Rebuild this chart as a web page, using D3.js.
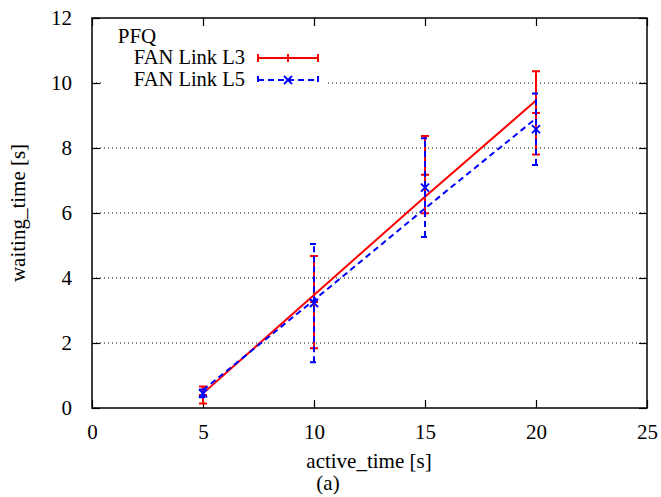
<!DOCTYPE html>
<html>
<head>
<meta charset="utf-8">
<script src="https://cdn.jsdelivr.net/npm/d3@7"></script>
<style>
  body { margin: 0; background: #fff; }
  svg { display: block; }
  text { font-family: 'Liberation Serif', 'DejaVu Serif', serif; fill: #000; }
</style>
</head>
<body>
<svg id="chart"></svg>
<script>
'use strict';

const FONT = "'Liberation Serif', 'DejaVu Serif', serif";

// values
const activeTime = [5, 10, 15, 20];
const l3Line = [0.45, 3.48, 6.5, 9.46];
const l3Mean = [0.4, 3.26, 7.18, 9.08];
const l3Err = [0.26, 1.42, 1.19, 1.28];
const l5Line = [0.55, 3.32, 6.14, 8.91];
const l5Mean = [0.45, 3.23, 6.78, 8.58];
const l5Err = [0.12, 1.82, 1.52, 1.1];
const xTicks = [0, 5, 10, 15, 20, 25];
const yTicks = [0, 2, 4, 6, 8, 10, 12];
const gridTicks = [2, 4, 6, 8, 10];

const series = [
  { name: 'FAN Link L3', line: l3Line, mean: l3Mean, err: l3Err, color: '#ff0000', dash: null, marker: 'plus' },
  { name: 'FAN Link L5', line: l5Line, mean: l5Mean, err: l5Err, color: '#0000ff', dash: '6,4', marker: 'cross' }
];

const margin = { top: 18, right: 14, bottom: 89, left: 92 };
const totalW = 661, totalH = 497;
const width = totalW - margin.left - margin.right;
const height = totalH - margin.top - margin.bottom;
const TICK = 8;
const CAP = 4;
const MS = 4;

const svg = d3.select('#chart').attr('width', totalW).attr('height', totalH);
const chart = svg.append('g').attr('transform', 'translate(' + margin.left + ',' + margin.top + ')');

const x = d3.scaleLinear().domain([0, 25]).range([0, width]);
const y = d3.scaleLinear().domain([0, 12]).range([height, 0]);

// dotted grid
chart.append('g').selectAll('line')
  .data(gridTicks)
  .enter().append('line')
  .attr('x1', 0).attr('x2', width)
  .attr('y1', d => y(d)).attr('y2', d => y(d))
  .attr('stroke', '#000').attr('stroke-width', 1)
  .attr('stroke-dasharray', '1,3');

// opaque key background
chart.append('rect')
  .attr('x', 9).attr('y', 9).attr('width', 226).attr('height', 66)
  .attr('fill', '#fff');

// axes with inward ticks, mirrored on top/right
chart.append('g').attr('class', 'axis')
  .attr('transform', 'translate(0,' + height + ')')
  .call(d3.axisBottom(x).tickValues(xTicks).tickSize(-TICK).tickPadding(16).tickFormat(d3.format('d')));
chart.append('g').attr('class', 'axis')
  .call(d3.axisTop(x).tickValues(xTicks).tickSize(-TICK).tickFormat(''));
chart.append('g').attr('class', 'axis')
  .call(d3.axisLeft(y).tickValues(yTicks).tickSize(-TICK).tickPadding(20).tickFormat(d3.format('d')));
chart.append('g').attr('class', 'axis')
  .attr('transform', 'translate(' + width + ',0)')
  .call(d3.axisRight(y).tickValues(yTicks).tickSize(-TICK).tickFormat(''));
chart.selectAll('.axis').attr('font-family', FONT).attr('font-size', 21);
chart.selectAll('.axis text').attr('font-family', FONT).attr('font-size', 21).attr('fill', '#000');
chart.selectAll('.axis .domain').remove();
chart.selectAll('.axis .tick line').attr('stroke', '#000').attr('stroke-width', 1.2);

chart.append('rect')
  .attr('width', width).attr('height', height)
  .attr('fill', 'none').attr('stroke', '#000').attr('stroke-width', 1.5);

function drawMarker(g, type, cx, cy, color) {
  const p = type === 'plus'
    ? 'M' + (cx - MS) + ',' + cy + 'H' + (cx + MS) + 'M' + cx + ',' + (cy - MS) + 'V' + (cy + MS)
    : 'M' + (cx - MS) + ',' + (cy - MS) + 'L' + (cx + MS) + ',' + (cy + MS) +
      'M' + (cx - MS) + ',' + (cy + MS) + 'L' + (cx + MS) + ',' + (cy - MS);
  g.append('path').attr('d', p).attr('stroke', color).attr('stroke-width', 2).attr('fill', 'none');
}

const line = d3.line().x(d => x(d[0])).y(d => y(d[1]));

series.forEach((s) => {
  const g = chart.append('g');
  const pts = activeTime.map((t, i) => [t, s.line[i]]);
  g.append('path')
    .attr('d', line(pts))
    .attr('fill', 'none').attr('stroke', s.color).attr('stroke-width', 2)
    .attr('stroke-dasharray', s.dash);

  activeTime.forEach((t, i) => {
    const cx = x(t);
    const lo = y(s.mean[i] - s.err[i]);
    const hi = y(s.mean[i] + s.err[i]);
    g.append('path')
      .attr('d', 'M' + cx + ',' + lo + 'V' + hi +
        'M' + (cx - CAP) + ',' + lo + 'H' + (cx + CAP) +
        'M' + (cx - CAP) + ',' + hi + 'H' + (cx + CAP))
      .attr('fill', 'none').attr('stroke', s.color).attr('stroke-width', 2)
      .attr('stroke-dasharray', s.dash);
    drawMarker(g, s.marker, cx, y(s.mean[i]), s.color);
  });
});

// key
const key = chart.append('g');
key.append('text')
  .attr('x', 45).attr('y', 25)
  .attr('text-anchor', 'middle').attr('font-size', 21)
  .text('PFQ');

series.forEach((s, i) => {
  const ky = 40 + i * 22;
  key.append('text')
    .attr('x', 153).attr('y', ky + 6)
    .attr('text-anchor', 'end').attr('font-size', 20.5)
    .text(s.name);
  const x0 = 166, x1 = 226;
  key.append('path')
    .attr('d', 'M' + x0 + ',' + ky + 'H' + x1 +
      'M' + x0 + ',' + (ky - CAP) + 'V' + (ky + CAP) +
      'M' + x1 + ',' + (ky - CAP) + 'V' + (ky + CAP))
    .attr('fill', 'none').attr('stroke', s.color).attr('stroke-width', 2)
    .attr('stroke-dasharray', s.dash);
  drawMarker(key, s.marker, (x0 + x1) / 2, ky, s.color);
});

// titles
svg.append('text')
  .attr('x', 369).attr('y', 468)
  .attr('text-anchor', 'middle').attr('font-size', 21)
  .text('active_time [s]');
svg.append('text')
  .attr('x', 328).attr('y', 490)
  .attr('text-anchor', 'middle').attr('font-size', 21)
  .text('(a)');
svg.append('text')
  .attr('transform', 'translate(25,' + (margin.top + height / 2) + ') rotate(-90)')
  .attr('text-anchor', 'middle').attr('font-size', 21)
  .text('waiting_time [s]');
</script>
</body>
</html>
